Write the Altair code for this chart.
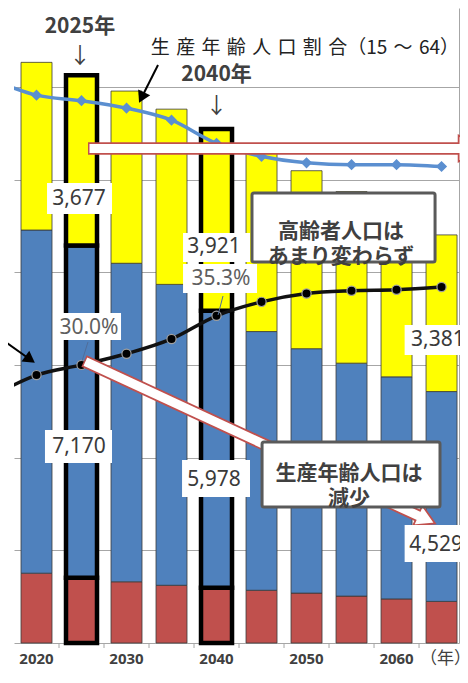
import altair as alt
import pandas as pd

# ---------------- data (万人 / %) ----------------
years = [2020, 2025, 2030, 2035, 2040, 2045, 2050, 2055, 2060, 2065]
pop_0_14 = [1507, 1407, 1321, 1246, 1194, 1138, 1077, 1012, 951, 898]
pop_15_64 = [7406, 7170, 6875, 6494, 5978, 5584, 5275, 5028, 4793, 4529]
pop_65_over = [3619, 3677, 3716, 3782, 3921, 3919, 3841, 3704, 3540, 3381]
highlight_years = [2025, 2040]

ratio_years = [2015, 2020, 2025, 2030, 2035, 2040, 2045, 2050, 2055, 2060, 2065]
ratio_15_64 = [60.8, 59.1, 58.5, 57.7, 56.4, 53.9, 52.5, 51.8, 51.6, 51.6, 51.4]
ratio_65_over = [26.6, 28.9, 30.0, 31.2, 32.8, 35.3, 36.8, 37.7, 38.0, 38.1, 38.4]

# x axis: ticks between the bars, a label every 10 years
tick_years = [2022.5, 2027.5, 2032.5, 2037.5, 2042.5, 2047.5, 2052.5, 2057.5, 2062.5]
label_years = [2020, 2030, 2040, 2050, 2060]
label_texts = ["2020", "2030", "2040", "2050", "2060"]
grid_values = [0, 2000, 4000, 6000, 8000, 10000, 12000]

# value labels with white background boxes
num_labels = ["3,677", "3,921", "35.3%", "30.0%", "7,170", "5,978", "3,381", "4,529"]
num_x = [2024.72, 2039.72, 2040.5, 2025.83, 2024.72, 2039.72, 2064.6, 2064.4]
num_y = [9583, 8547, 7856, 6799, 4230, 3518, 6540, 2115]
num_colors = ["#3A3A3A", "#3A3A3A", "#5F5F5F", "#5F5F5F", "#3A3A3A", "#3A3A3A", "#3A3A3A", "#3A3A3A"]
box_x1 = [2021.17, 2036.28, 2036.28, 2021.83, 2020.94, 2036.17, 2060.9, 2060.9]
box_x2 = [2028.39, 2043.72, 2044.5, 2029.39, 2028.39, 2043.72, 2068.72, 2068.72]
box_y1 = [9259, 8223, 7554, 6540, 3885, 3151, 6216, 1748]
box_y2 = [9928, 8849, 8180, 7122, 4597, 3950, 6863, 2547]

# leader lines for the % labels
lead_x1 = [2025.72, 2040.72]
lead_x2 = [2025.06, 2040.17]
lead_y1 = [6497, 7489]
lead_y2 = [6086, 7079]

# callout boxes
callout_text = ["高齢者人口は\nあまり変わらず", "生産年齢人口は\n減少"]
callout_x = [2053.83, 2054.72]
callout_y = [8881, 3648]
callout_x1 = [2043.94, 2045.06]
callout_x2 = [2064.28, 2064.83]
callout_y1 = [8223, 2935]
callout_y2 = [9712, 4338]

# hollow (white / red outline) arrows
harrow_x1 = [2025.72, 2025.28]
harrow_x2 = [2066.9, 2062.37]
harrow_y1 = [10673, 6086]
harrow_y2 = [10673, 2752]
harrow_wx1 = [2025.89, 2025.43]
harrow_wx2 = [2067.6, 2062.72]
harrow_wy1 = [10673, 6073]
harrow_wy2 = [10673, 2719]
hhead_x = [2068.15, 2063.32]
hhead_y = [10673, 2666]
hhead_angle = [90, 114.8]
hhead_size = [676, 484]

# thin black arrows
barrow_x1 = [2033.5, 2015.94]
barrow_x2 = [2031.68, 2019.29]
barrow_y1 = [12475, 6583]
barrow_y2 = [11772, 6119]
bhead_angle = [206, 125.5]

# headline texts
head_text = ["2025年", "2040年"]
head_x = [2024.83, 2040.0]
head_y = [13300, 12259]
down_x = [2024.83, 2040.0]
down_y = [12669, 11590]
ratio_note = "生\u2004産\u2004年\u2004齢\u2004人\u2004口\u2004割\u2004合（15\u2004～\u200464）"
ratio_note_x = [2032.7]
ratio_note_y = [12842]
unit_text = "（年）"
unit_x = [2062.6]
unit_y = [-340]
axis_label_y = -355
tick_len = -108

X_DOMAIN = [2017.5, 2066.94]
Y_DOMAIN = [0, 13705]
PCT_TO_Y = 200.07   # right (%) axis: 68.5 % at the top of the plot

RED = "#C0504D"
BLUE = "#4F81BD"
YELLOW = "#FFFF00"
LBLUE = "#5B8FD0"
AXIS_GRAY = "#A6A6A6"

# ---------------- tables ----------------
rows = []
for name, vals, col, o in [("0-14", pop_0_14, RED, 0), ("15-64", pop_15_64, BLUE, 1),
                           ("65+", pop_65_over, YELLOW, 2)]:
    for yr, v in zip(years, vals):
        hl = yr in highlight_years
        rows.append(dict(year=yr, group=name, value=v, fill=col, ord=o,
                         stroke="#000000" if hl else "#3A3A3A", sw=4.5 if hl else 0.8))
bar_df = pd.DataFrame(rows)

work_df = pd.DataFrame({"year": ratio_years, "pct": ratio_15_64})
old_df = pd.DataFrame({"year": ratio_years, "pct": ratio_65_over})

tick_df = pd.DataFrame({"x": tick_years, "y": [0] * len(tick_years), "y2": [tick_len] * len(tick_years)})
xlab_df = pd.DataFrame({"t": label_texts, "x": label_years, "y": [axis_label_y] * len(label_years)})
num_df = pd.DataFrame({"t": num_labels, "x": num_x, "y": num_y, "c": num_colors})
box_df = pd.DataFrame({"x": box_x1, "x2": box_x2, "y": box_y1, "y2": box_y2})
lead_df = pd.DataFrame({"x": lead_x1, "x2": lead_x2, "y": lead_y1, "y2": lead_y2})
call_df = pd.DataFrame({"t": callout_text, "x": callout_x, "y": callout_y})
callbox_df = pd.DataFrame({"x": callout_x1, "x2": callout_x2, "y": callout_y1, "y2": callout_y2})
hred_df = pd.DataFrame({"x": harrow_x1, "x2": harrow_x2, "y": harrow_y1, "y2": harrow_y2})
hwhite_df = pd.DataFrame({"x": harrow_wx1, "x2": harrow_wx2, "y": harrow_wy1, "y2": harrow_wy2})
hhead_df = pd.DataFrame({"x": hhead_x, "y": hhead_y, "a": hhead_angle, "s": hhead_size})
barrow_df = pd.DataFrame({"x": barrow_x1, "x2": barrow_x2, "y": barrow_y1, "y2": barrow_y2})
bhead_df = pd.DataFrame({"x": barrow_x2, "y": barrow_y2, "a": bhead_angle})
head_df = pd.DataFrame({"t": head_text, "x": head_x, "y": head_y})
down_df = pd.DataFrame({"t": ["↓", "↓"], "x": down_x, "y": down_y})
note_df = pd.DataFrame({"t": [ratio_note], "x": ratio_note_x, "y": ratio_note_y})
unit_df = pd.DataFrame({"t": [unit_text], "x": unit_x, "y": unit_y})

XS = alt.Scale(domain=X_DOMAIN, nice=False, zero=False, padding=0)
YS = alt.Scale(domain=Y_DOMAIN, nice=False, padding=0)


def xq(field="x"):
    return alt.X(f"{field}:Q", scale=XS, axis=None)


def yq(field="y"):
    return alt.Y(f"{field}:Q", scale=YS, axis=None)


# ---------------- bars ----------------
bars = alt.Chart(bar_df).mark_bar(size=31).encode(
    x=alt.X("year:Q", scale=XS,
            axis=alt.Axis(orient="bottom", labels=False, ticks=False, domain=True,
                          domainColor=AXIS_GRAY, grid=False, title=None)),
    y=alt.Y("value:Q", stack="zero", scale=YS,
            axis=alt.Axis(orient="left", values=grid_values, labels=False, ticks=False, domain=False,
                          grid=True, gridColor=AXIS_GRAY, gridWidth=1, title=None)),
    fill=alt.Fill("fill:N", scale=None),
    stroke=alt.Stroke("stroke:N", scale=None),
    strokeWidth=alt.StrokeWidth("sw:Q", scale=None),
    order=alt.Order("ord:Q", sort="ascending"),
)

# x-axis ticks and labels drawn on the same scales
xticks = alt.Chart(tick_df).mark_rule(color=AXIS_GRAY, strokeWidth=1).encode(
    x=xq(), y=yq(), y2="y2:Q")
xlabels = alt.Chart(xlab_df).mark_text(font="Noto Sans", fontSize=15, fontWeight="bold",
                                       color="#404040", align="center", baseline="middle").encode(
    x=xq(), y=yq(), text="t:N")

# ---------------- ratio lines (right % axis, same scale: % * PCT_TO_Y) ----------------
px = alt.X("year:Q", scale=XS, axis=None)
conv = f"datum.pct * {PCT_TO_Y}"
blue_line = alt.Chart(work_df).transform_calculate(yv=conv).mark_line(
    clip=True, interpolate="monotone", color=LBLUE, strokeWidth=3.5).encode(
    x=px,
    y=alt.Y("yv:Q", scale=YS,
            axis=alt.Axis(orient="right", labels=False, ticks=False, grid=False, domain=True,
                          domainColor=AXIS_GRAY, title=None)),
)
blue_pts = alt.Chart(work_df).transform_calculate(yv=conv).mark_point(
    clip=True, shape="diamond", filled=True, size=70, fill=LBLUE, stroke=LBLUE, opacity=1).encode(
    x=px, y=yq("yv"))
black_line = alt.Chart(old_df).transform_calculate(yv=conv).mark_line(
    clip=True, interpolate="monotone", color="#111111", strokeWidth=3.5).encode(x=px, y=yq("yv"))
black_pts = alt.Chart(old_df).transform_calculate(yv=conv).mark_point(
    clip=True, shape="circle", filled=True, size=85, fill="#000000",
    stroke="#A0A0A0", strokeWidth=1.2, opacity=1).encode(x=px, y=yq("yv"))

# ---------------- annotations ----------------
leads = alt.Chart(lead_df).mark_rule(color="#4F6D9A", strokeWidth=1).encode(
    x=xq(), x2="x2:Q", y=yq(), y2="y2:Q")
hred = alt.Chart(hred_df).mark_rule(color=RED, strokeWidth=12.5, strokeCap="butt").encode(
    x=xq(), x2="x2:Q", y=yq(), y2="y2:Q")
hhead = alt.Chart(hhead_df).mark_point(shape="triangle-up", filled=True, fill="#FFFFFF", stroke=RED,
                                       strokeWidth=1.8, opacity=1).encode(
    x=xq(), y=yq(), angle=alt.Angle("a:Q", scale=None), size=alt.Size("s:Q", scale=None))
hwhite = alt.Chart(hwhite_df).mark_rule(color="#FFFFFF", strokeWidth=9, strokeCap="butt").encode(
    x=xq(), x2="x2:Q", y=yq(), y2="y2:Q")
barrow = alt.Chart(barrow_df).mark_rule(color="#000000", strokeWidth=2).encode(
    x=xq(), x2="x2:Q", y=yq(), y2="y2:Q")
bhead = alt.Chart(bhead_df).mark_point(shape="triangle-up", filled=True, fill="#000000", size=180,
                                       opacity=1).encode(
    x=xq(), y=yq(), angle=alt.Angle("a:Q", scale=None))
boxes = alt.Chart(box_df).mark_rect(fill="#FFFFFF").encode(x=xq(), x2="x2:Q", y=yq(), y2="y2:Q")
callboxes = alt.Chart(callbox_df).mark_rect(fill="#FFFFFF", stroke="#5A5A5A", strokeWidth=3,
                                            cornerRadius=2).encode(x=xq(), x2="x2:Q", y=yq(), y2="y2:Q")
nums = alt.Chart(num_df).mark_text(font="Noto Sans", fontSize=21, align="center", baseline="middle").encode(
    x=xq(), y=yq(), text="t:N", color=alt.Color("c:N", scale=None))
calls = alt.Chart(call_df).mark_text(font="Noto Sans CJK JP", fontSize=21, fontWeight="bold",
                                     color="#404040", align="center", baseline="middle",
                                     lineBreak="\n", lineHeight=25).encode(x=xq(), y=yq(), text="t:N")
heads = alt.Chart(head_df).mark_text(font="Noto Sans CJK JP", fontSize=21, fontWeight="bold",
                                     color="#404040", align="center", baseline="middle").encode(
    x=xq(), y=yq(), text="t:N")
downs = alt.Chart(down_df).mark_text(font="Noto Sans CJK JP", fontSize=22, color="#404040",
                                     align="center", baseline="middle").encode(x=xq(), y=yq(), text="t:N")
note = alt.Chart(note_df).mark_text(font="Noto Sans CJK JP", fontSize=19, color="#222222",
                                    align="left", baseline="middle").encode(x=xq(), y=yq(), text="t:N")
unit = alt.Chart(unit_df).mark_text(font="Noto Sans CJK JP", fontSize=17, color="#404040",
                                    align="left", baseline="middle").encode(x=xq(), y=yq(), text="t:N")

chart = alt.layer(
    bars, xticks, xlabels, blue_line, blue_pts, black_line, black_pts,
    leads, hred, hhead, hwhite, barrow, bhead, boxes, callboxes,
    nums, calls, heads, downs, note, unit,
).resolve_axis(y="independent").properties(
    width=445, height=635,
    autosize=alt.AutoSizeParams(type="none"),
    padding={"left": 6, "top": 0, "right": 1, "bottom": 27},
    background="#FFFFFF",
).configure_view(stroke=None)

chart.save("out.html", embed_options={"renderer": "svg", "actions": False})
